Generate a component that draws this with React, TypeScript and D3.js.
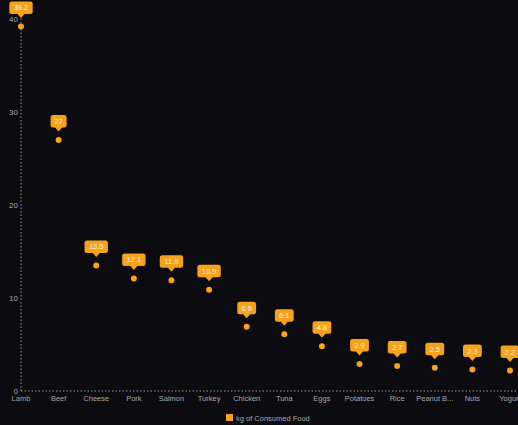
import React from "react";
import * as d3 from "d3";

const categories = ["Lamb","Beef","Cheese","Pork","Salmon","Turkey","Chicken","Tuna","Eggs","Potatoes","Rice","Peanut B...","Nuts","Yogurt"];
const values = [39.2,27,13.5,12.1,11.9,10.9,6.9,6.1,4.8,2.9,2.7,2.5,2.3,2.2];
const yTicks = [0,10,20,30,40];
const seriesName = "kg of Consumed Food";

const W = 518, H = 425;
const ORANGE = "#f7a21b";
const TEXT = "#a8a8a8";

export default function App() {
  const x = d3.scalePoint<string>().domain(categories).range([21, 510]);
  const y = d3.scaleLinear().domain([0, 40]).range([391, 19]);
  return (
    <svg width={W} height={H} style={{ position: "absolute", left: 0, top: 0, background: "#0b0b10", fontFamily: "Liberation Sans, Arial, sans-serif" }}>
      <rect x={0} y={0} width={W} height={H} fill="#0b0b10" />
      <line x1={21} x2={21} y1={y(40) - 4} y2={y(0)} stroke="#9a9a9a" strokeDasharray="1.5,2" strokeWidth={1} />
      <line x1={21} x2={W} y1={y(0)} y2={y(0)} stroke="#9a9a9a" strokeDasharray="1.5,2" strokeWidth={1} />
      {yTicks.map(t => (
        <text key={t} x={18} y={y(t) + 2.5} fontSize={8} fill={TEXT} textAnchor="end">{t}</text>
      ))}
      {categories.map(c => (
        <text key={c} x={x(c)} y={401} fontSize={7.5} fill={TEXT} textAnchor="middle">{c}</text>
      ))}
      {values.map((v, i) => {
        const cx = x(categories[i])!;
        const cy = y(v);
        const label = String(v);
        const bw = Math.max(16, label.length * 4.6 + 5);
        const bh = 12.5;
        const by = cy - 25;
        return (
          <g key={i}>
            <circle cx={cx} cy={cy} r={3} fill={ORANGE} />
            <rect x={cx - bw / 2} y={by} width={bw} height={bh} rx={2.5} fill={ORANGE} />
            <path d={`M${cx - 4},${by + bh - 0.5} L${cx},${by + bh + 4} L${cx + 4},${by + bh - 0.5} Z`} fill={ORANGE} />
            <text x={cx} y={by + 9} fontSize={7.5} fill="#fff4e0" textAnchor="middle">{label}</text>
          </g>
        );
      })}
      <rect x={226} y={414} width={7} height={7} fill={ORANGE} />
      <text x={236} y={420.5} fontSize={7.5} fill={TEXT}>{seriesName}</text>
    </svg>
  );
}
